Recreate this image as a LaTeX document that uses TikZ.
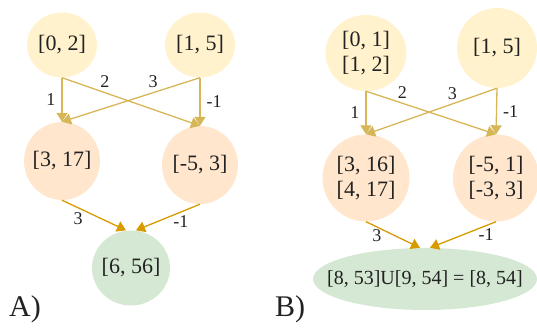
\documentclass[tikz,border=0pt]{standalone}
\usepackage{fontspec}
\setmainfont{Liberation Serif}
\usetikzlibrary{shapes.geometric,arrows.meta}
\definecolor{lowfill}{HTML}{FFF2CC}
\definecolor{midfill}{HTML}{FFE6CC}
\definecolor{resfill}{HTML}{D5E8D4}
\definecolor{topedge}{HTML}{D6B656}
\definecolor{botedge}{HTML}{D79B00}
\definecolor{txt}{HTML}{222222}

\begin{document}
\begin{tikzpicture}[x=1pt, y=-1pt,
    ival/.style={ellipse, inner xsep=-8pt, inner ysep=0pt, text=txt, align=center,
        font=\fontsize{22}{25}\selectfont},
    wt/.style={text=txt, inner sep=1pt, font=\fontsize{18}{20}\selectfont},
    tope/.style={draw=topedge, line width=1.3pt, -{Triangle[width=11pt,length=9pt]}},
    bote/.style={draw=botedge, line width=1.3pt, -{Triangle[width=11pt,length=9pt]}}]
    \useasboundingbox (0,0) rectangle (537,328);

    % A)
    \node[ival, fill=lowfill, minimum width=70pt, minimum height=65pt] (a02) at (62,45) {[0, 2]};
    \node[ival, fill=lowfill, minimum width=70pt, minimum height=65pt] (a15) at (200,45) {[1, 5]};
    \node[ival, fill=midfill, minimum width=76pt, minimum height=78pt] (a317) at (62,161) {[3, 17]};
    \node[ival, fill=midfill, minimum width=76pt, minimum height=78pt] (am53) at (200,165) {[-5, 3]};
    \node[ival, fill=resfill, minimum width=78pt, minimum height=75pt] (a656) at (131,268) {[6, 56]};

    \draw[tope] (a02.south) -- node[wt, left=5pt] {1} (a317.north);
    \draw[tope] (a02.south) -- node[wt, pos=0.31, above=3pt] {2} (am53.north);
    \draw[tope] (a15.south) -- node[wt, pos=0.34, above=3pt] {3} (a317.north);
    \draw[tope] (a15.south) -- node[wt, right=5pt] {-1} (am53.north);
    \draw[bote] (a317.south) -- node[wt, pos=0.25, below=3pt] {3} ([xshift=-5pt]a656.north);
    \draw[bote] (am53.south) -- node[wt, pos=0.3, below=2pt] {-1} ([xshift=5pt]a656.north);

    \node[text=txt, font=\fontsize{30}{32}\selectfont] (capa) at (25,309) {A)};

    % B)
    \node[ival, fill=lowfill, minimum width=81pt, minimum height=76pt] (b0112) at (366,53) {[0, 1]\\{}[1, 2]};
    \node[ival, fill=lowfill, minimum width=80pt, minimum height=80pt] (b15) at (497,48) {[1, 5]};
    \node[ival, fill=midfill, minimum width=87pt, minimum height=87pt] (b316) at (366,178) {[3, 16]\\{}[4, 17]};
    \node[ival, fill=midfill, minimum width=86pt, minimum height=87pt] (bm51) at (496,178) {[-5, 1]\\{}[-3, 3]};
    \node[ival, fill=resfill, inner xsep=-30pt, minimum width=224pt, minimum height=62pt,
        font=\fontsize{20}{24}\selectfont] (bres) at (425,279) {[8, 53]U[9, 54] = [8, 54]};

    \draw[tope] (b0112.south) -- node[wt, left=5pt] {1} (b316.north);
    \draw[tope] (b0112.south) -- node[wt, pos=0.28, above=3pt] {2} (bm51.north);
    \draw[tope] (b15.south) -- node[wt, pos=0.34, above=3pt] {3} (b316.north);
    \draw[tope] (b15.south) -- node[wt, right=5pt] {-1} (bm51.north);
    \draw[bote] (b316.south) -- node[wt, pos=0.2, below=1pt] {3} ([xshift=-5pt]bres.north);
    \draw[bote] (bm51.south) -- node[wt, pos=0.15, below=1pt] {-1} ([xshift=5pt]bres.north);

    \node[text=txt, font=\fontsize{30}{32}\selectfont] (capb) at (290,309) {B)};
\end{tikzpicture}
\end{document}
